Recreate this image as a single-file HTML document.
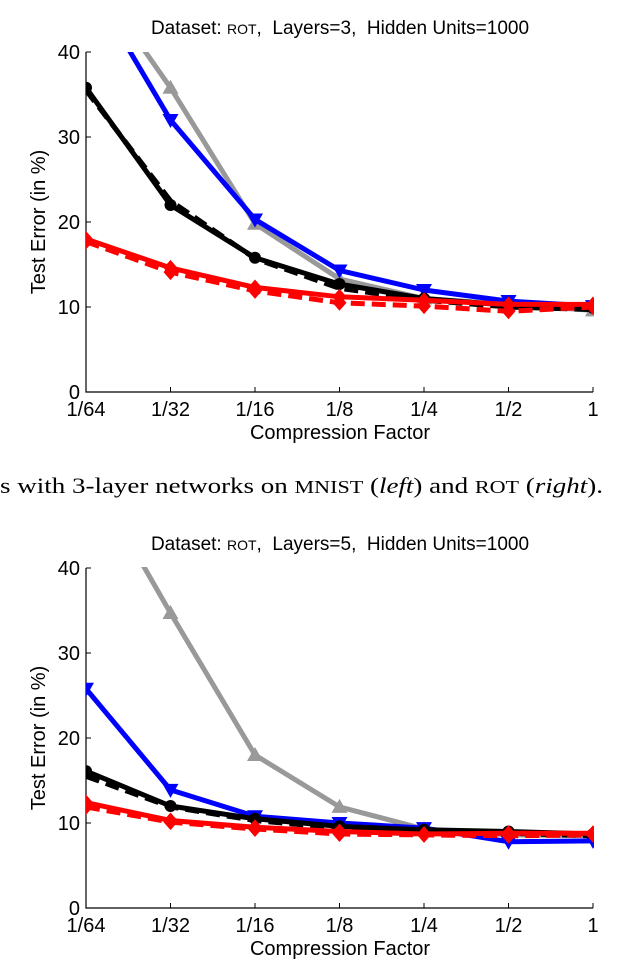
<!DOCTYPE html>
<html><head><meta charset="utf-8"><style>
html,body{margin:0;padding:0;background:#fff;}
svg{display:block;}
text{font-family:"Liberation Sans",sans-serif;fill:#000;}
.cap{font-family:"Liberation Serif",serif;font-size:22px;}
</style></head><body>
<svg id="s" width="630" height="969" viewBox="0 0 630 969">
<defs>
<clipPath id="c1"><rect x="86" y="52" width="508" height="340"/></clipPath>
<clipPath id="c2"><rect x="86" y="567" width="508" height="341"/></clipPath>
</defs>
<text class="cap" x="0" y="493" textLength="603" lengthAdjust="spacingAndGlyphs">s with 3-layer networks on <tspan font-size="18">MNIST</tspan> (<tspan font-style="italic">left</tspan>) and <tspan font-size="18">ROT</tspan> (<tspan font-style="italic">right</tspan>).</text>
</svg>
<script>
const categories = ["1/64","1/32","1/16","1/8","1/4","1/2","1"];
const yTicks = [0,10,20,30,40];
// Top chart (Layers=3)
const top_gray = [50,35.8,19.8,13.3,11,10.3,9.6];
const top_blue = [48.8,32,20.3,14.3,12,10.7,10.1];
const top_black = [35.8,22,15.8,12.7,11,10.2,9.9];
const top_blackDash = [35.5,22.5,15.7,12.2,10.8,10.0,9.7];
const top_red = [18,14.6,12.3,11.2,10.8,10.3,10.3];
const top_redDash = [17.7,14.1,11.9,10.5,10.1,9.5,10.0];
// Bottom chart (Layers=5)
const bot_gray = [52,34.7,18,11.9,9.3,8.6,8.5];
const bot_blue = [25.8,13.9,10.8,10,9.4,7.8,7.9];
const bot_black = [16.1,12,10.5,9.6,9.2,9.0,8.7];
const bot_blackDash = [15.5,11.9,10.3,9.4,9.1,8.8,8.5];
const bot_red = [12.4,10.3,9.5,9,8.7,8.8,8.8];
const bot_redDash = [11.9,10.1,9.3,8.7,8.6,8.5,8.6];

const NS="http://www.w3.org/2000/svg";
const svg=document.getElementById('s');
function mk(tag,attrs,parent){const e=document.createElementNS(NS,tag);for(const k in attrs)e.setAttribute(k,attrs[k]);(parent||svg).appendChild(e);return e;}

function chart(prefix,layers,y0,clip,series){
  const x0=86,x1=593,y40=y0-340;
  const xs=i=>x0+(x1-x0)*i/(categories.length-1);
  const ys=v=>y0-(v/40)*(y0-y40);
  const g=mk('g',{});
  
  
  const t=mk('text',{x:340,y:y40-18,'text-anchor':'middle','font-size':'19'},g);
  t.innerHTML='Dataset: <tspan font-size="14">ROT</tspan>,\u00a0\u00a0Layers='+layers+',\u00a0\u00a0Hidden Units=1000';
  
  
  const ax=mk('path',{d:`M${x0} ${y40}V${y0}H${x1}`,stroke:'#000','stroke-width':1.2,fill:'none'},g);
  
  
  yTicks.forEach(v=>{
    mk('line',{x1:x0,x2:x0+5,y1:ys(v),y2:ys(v),stroke:'#000'},g);
    const l=mk('text',{x:x0-6,y:ys(v)+7,'text-anchor':'end','font-size':'20'},g);
    l.textContent=v;
    
    
  });
  categories.forEach((c,i)=>{
    mk('line',{x1:xs(i),x2:xs(i),y1:y0,y2:y0-5,stroke:'#000'},g);
    const l=mk('text',{x:xs(i),y:y0+24,'text-anchor':'middle','font-size':'20'},g);
    l.textContent=c;
    
    
  });
  const xt=mk('text',{x:340,y:y0+47,'text-anchor':'middle','font-size':'20'},g);
  xt.textContent='Compression Factor';
  
  
  const cy=(y0+y40)/2;
  const yt=mk('text',{x:45,y:cy,'text-anchor':'middle','font-size':'20',transform:`rotate(-90 45 ${cy})`},g);
  yt.textContent='Test Error (in %)';
  
  
  const pg=mk('g',{'clip-path':`url(#${clip})`},g);
  series.forEach(s=>{
    const sg=mk('g',{},pg);
    
    
    const d=s.vals.map((v,i)=>(i?'L':'M')+xs(i).toFixed(1)+' '+ys(v).toFixed(1)).join('');
    const attrs={d:d,stroke:s.color,'stroke-width':5,fill:'none','stroke-linejoin':'round'};
    if(s.dash)attrs['stroke-dasharray']='14 7';
    mk('path',attrs,sg);
    s.vals.forEach((v,i)=>{
      const x=xs(i),y=ys(v);let m;
      if(s.marker==='circle')m=mk('circle',{cx:x,cy:y,r:6,fill:s.color},sg);
      else if(s.marker==='up')m=mk('path',{d:`M${x} ${y-8}L${x+8} ${y+6}L${x-8} ${y+6}Z`,fill:s.color},sg);
      else if(s.marker==='down')m=mk('path',{d:`M${x} ${y+8}L${x+8} ${y-6}L${x-8} ${y-6}Z`,fill:s.color},sg);
      else if(s.marker==='diamond')m=mk('path',{d:`M${x} ${y-8}L${x+7} ${y}L${x} ${y+8}L${x-7} ${y}Z`,fill:s.color},sg);
      if(m){
        
        
      }
    });
  });
}
chart('top','3',392,'c1',[
 {name:'gray-series',vals:top_gray,color:'#999',marker:'up'},
 {name:'blue-series',vals:top_blue,color:'#0000ff',marker:'down'},
 {name:'black-dashed-series',vals:top_blackDash,color:'#000',dash:true},
 {name:'black-series',vals:top_black,color:'#000',marker:'circle'},
 {name:'red-dashed-series',vals:top_redDash,color:'#ff0000',dash:true,marker:'diamond'},
 {name:'red-series',vals:top_red,color:'#ff0000',marker:'diamond'}
]);
chart('bottom','5',908,'c2',[
 {name:'gray-series',vals:bot_gray,color:'#999',marker:'up'},
 {name:'blue-series',vals:bot_blue,color:'#0000ff',marker:'down'},
 {name:'black-dashed-series',vals:bot_blackDash,color:'#000',dash:true},
 {name:'black-series',vals:bot_black,color:'#000',marker:'circle'},
 {name:'red-dashed-series',vals:bot_redDash,color:'#ff0000',dash:true,marker:'diamond'},
 {name:'red-series',vals:bot_red,color:'#ff0000',marker:'diamond'}
]);
</script>
</body></html>
